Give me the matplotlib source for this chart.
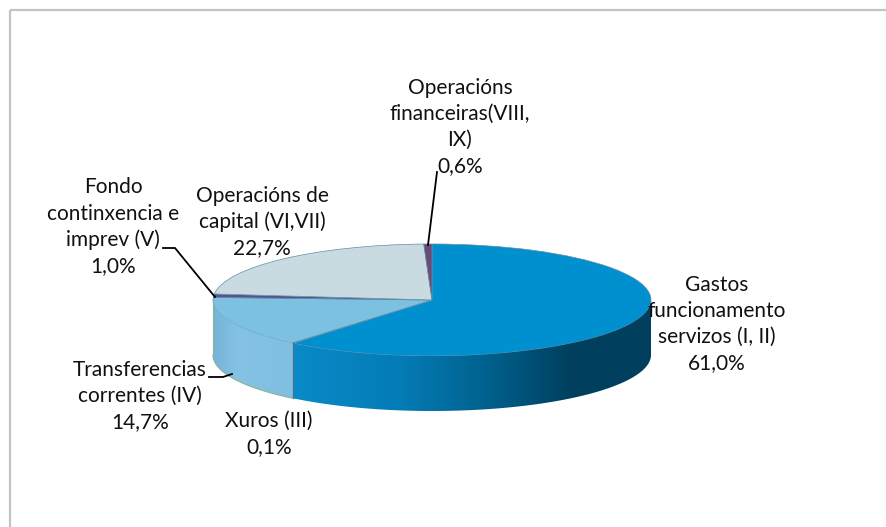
import numpy as np
import matplotlib
matplotlib.use("Agg")
import matplotlib.pyplot as plt
from matplotlib.colors import LinearSegmentedColormap
from matplotlib.patches import Polygon, Rectangle

# Chart data
labels = ["Gastos\nfuncionamento\nservizos (I, II)", "Xuros (III)", "Transferencias\ncorrentes (IV)",
          "Fondo\ncontinxencia e\nimprev (V)", "Operacións de\ncapital (VI,VII)", "Operacións\nfinanceiras(VIII,\nIX)"]
values = [61.0, 0.1, 14.7, 1.0, 22.7, 0.6]
pct_labels = ["61,0%", "0,1%", "14,7%", "1,0%", "22,7%", "0,6%"]
top_colors = ["#0090d0", "#8a6a50", "#7cc0e2", "#5b4f8f", "#c9dae0", "#6a4a78"]

# Layout in pixels
W, H = 887, 527
cx, cy, rx, ry, depth = 432, 300, 219, 56, 55
label_pos = [(717, 324), (269, 434), (140, 396), (113, 227), (262, 222), (460, 127)]
leaders = [None, None,
           [(209, 377), (223, 377), (232, 374)],
           [(163, 248), (175, 248), (215, 297)],
           None,
           [(437, 172), (428, 245)]]

plt.rcParams["font.family"] = "Lato"
fig = plt.figure(figsize=(W / 100, H / 100), dpi=100)
ax = fig.add_axes([0, 0, 1, 1])
ax.set_xlim(0, W)
ax.set_ylim(H, 0)
ax.axis("off")

# chart frame, runs off the right and bottom of the picture
ax.add_patch(Rectangle((10, 10), W, H, fill=False, ec="#c4c4c4", lw=1.6))

# 3D side of the pie
blue_side = LinearSegmentedColormap.from_list("blue_side", [(0, "#0a8ac8"), (0.3, "#047cb6"), (0.55, "#00608c"),
                                                            (0.78, "#003f5e"), (1, "#00405f")])
light_side = LinearSegmentedColormap.from_list("light_side", [(0, "#74b4d6"), (0.3, "#85c2e3"), (1, "#7fbfe0")])


def side_path(t0, t1):
    t = np.radians(np.linspace(t0, t1, 120))
    x = cx + rx * np.cos(t)
    y = cy - ry * np.sin(t)
    return np.r_[np.c_[x, y], np.c_[x[::-1], y[::-1] + depth]]


angles = 90 - np.cumsum([0] + values) / sum(values) * 360
blue_end = angles[1]

# lower half only: blue from its end round to the right edge, light blue up to the left edge
p_blue = Polygon(side_path(blue_end, 0), closed=True, fc="none", ec="none", transform=ax.transData)
ax.add_patch(p_blue)
x0, x1 = side_path(blue_end, 0)[:, 0].min(), cx + rx
im = ax.imshow(np.linspace(0, 1, 256)[None, :], cmap=blue_side, extent=(x0, x1, cy + ry + depth + 2, cy - 2),
               aspect="auto", zorder=1)
im.set_clip_path(p_blue)

p_light = Polygon(side_path(-180, blue_end), closed=True, fc="none", ec="none", transform=ax.transData)
ax.add_patch(p_light)
im2 = ax.imshow(np.linspace(0, 1, 256)[None, :], cmap=light_side, extent=(cx - rx, x0, cy + ry + depth + 2, cy - 2),
                aspect="auto", zorder=1)
im2.set_clip_path(p_light)
ax.set_xlim(0, W)
ax.set_ylim(H, 0)

# outline of the side
t = np.radians(np.linspace(-180, blue_end, 80))
ax.plot(cx + rx * np.cos(t), cy - ry * np.sin(t) + depth, color="#8fb09a", lw=0.8, zorder=2)
ax.plot([cx - rx, cx - rx], [cy, cy + depth], color="#8fb09a", lw=0.8, zorder=2)
ax.plot([x0, x0], [cy + ry * np.sin(np.radians(-blue_end)), cy + ry * np.sin(np.radians(-blue_end)) + depth],
        color="#4a6f8f", lw=0.9, zorder=2)

# top of the pie, its own axes stretched over the ellipse box
ax_top = fig.add_axes([(cx - rx) / W, 1 - (cy + ry) / H, 2 * rx / W, 2 * ry / H])
ax_top.patch.set_alpha(0)
wedges, _ = ax_top.pie(values, startangle=90, counterclock=False, colors=top_colors, radius=1,
                       wedgeprops=dict(edgecolor="#5f8fa8", linewidth=0.5))
ax_top.set_aspect("auto")
ax_top.set_xlim(-1, 1)
ax_top.set_ylim(-1, 1)

# labels and leader lines
for lab, pct, (lx, ly), lead in zip(labels, pct_labels, label_pos, leaders):
    ax.text(lx, ly, lab + "\n" + pct, ha="center", va="center", fontsize=15, color="#111111",
            linespacing=1.38, zorder=5)
    if lead:
        xs, ys = zip(*lead)
        ax.plot(xs, ys, color="black", lw=1.3, zorder=4, solid_joinstyle="miter")

# leaders sit above the pie axes
ax.set_zorder(ax_top.get_zorder() + 1)
ax.patch.set_alpha(0)

fig.savefig("out.png", dpi=100, facecolor="white")
